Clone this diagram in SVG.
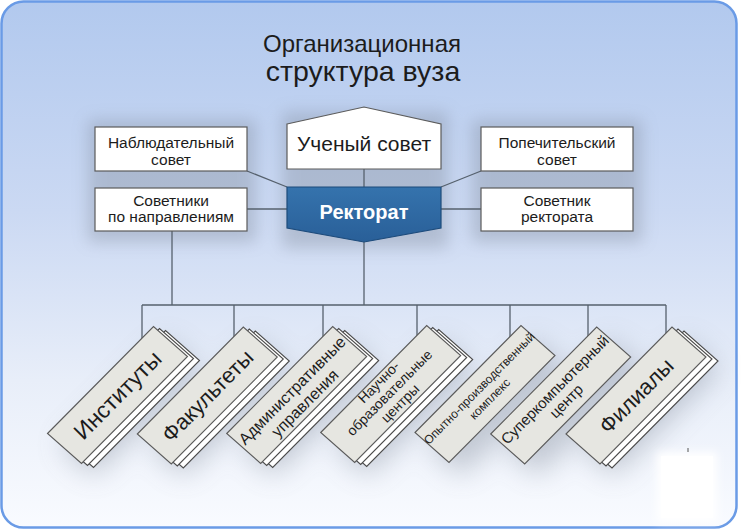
<svg xmlns="http://www.w3.org/2000/svg" width="741" height="531" viewBox="0 0 741 531">
<defs>
  <linearGradient id="bg" x1="0" y1="0" x2="0" y2="1">
    <stop offset="0" stop-color="#b2c9ee"/>
    <stop offset="0.4" stop-color="#cbd9f3"/>
    <stop offset="0.72" stop-color="#e8eef9"/>
    <stop offset="1" stop-color="#f9fbff"/>
  </linearGradient>
  <linearGradient id="rek" x1="0" y1="0" x2="0" y2="1">
    <stop offset="0" stop-color="#3573ad"/>
    <stop offset="1" stop-color="#295f98"/>
  </linearGradient>
  <filter id="soft" x="-30%" y="-30%" width="160%" height="160%">
    <feGaussianBlur stdDeviation="8"/>
  </filter>
  <filter id="soft2" x="-30%" y="-30%" width="160%" height="160%">
    <feGaussianBlur stdDeviation="14"/>
  </filter>
  <filter id="soft3" x="-30%" y="-30%" width="160%" height="160%">
    <feGaussianBlur stdDeviation="4"/>
  </filter>
  <polygon id="card" points="0,0 106,-107 140,-77 34,30"/>
</defs>
<style>
  .box{fill:#ffffff;stroke:#5b5b5b;stroke-width:1.2}
  .lbl{font-family:"Liberation Sans",Arial,sans-serif;fill:#1c1c1c;text-anchor:middle}
  .con path{stroke:#56616d;stroke-width:1.3;fill:none}
  .front{fill:#e6e6e1;stroke:#5a5a5a;stroke-width:1.1}
  .back{fill:#ffffff;stroke:#4a4a4a;stroke-width:1.1}
  .haze{fill:#7b8594}
</style>

<!-- background frame -->
<rect x="1.5" y="1.5" width="735" height="526" rx="22" fill="url(#bg)" stroke="#6a9be6" stroke-width="2.5"/>

<!-- soft shadows -->
<g class="haze" opacity="0.35" filter="url(#soft)">
  <rect x="88" y="120" width="168" height="122"/>
  <rect x="472" y="120" width="170" height="122"/>
  <rect x="282" y="112" width="166" height="136"/>
</g>
<g class="haze" opacity="0.4" filter="url(#soft2)">
  <use href="#card" transform="translate(60,446)"/>
  <use href="#card" transform="translate(150,446)"/>
  <use href="#card" transform="translate(240,446)"/>
  <use href="#card" transform="translate(334,446)"/>
  <use href="#card" transform="translate(428,446)"/>
  <use href="#card" transform="translate(504,446)"/>
  <use href="#card" transform="translate(580,446)"/>
</g>

<!-- title -->
<g id="title">
  <text class="lbl" x="362" y="52" font-size="24">Организационная</text>
  <text class="lbl" x="363" y="81" font-size="28.5">структура вуза</text>
</g>

<!-- connectors -->
<g id="connectors" class="con">
  <path d="M247,171 L287,187"/>
  <path d="M481,171 L441,187"/>
  <path d="M247,209 H287"/>
  <path d="M441,209 H481"/>
  <path d="M364,169 V187"/>
  <path d="M172,231 V305"/>
  <path d="M364,242 V305"/>
  <path d="M142,305 H666"/>
  <path d="M142,305 V345"/>
  <path d="M234,305 V345"/>
  <path d="M323,305 V345"/>
  <path d="M417,305 V345"/>
  <path d="M510,305 V345"/>
  <path d="M588,305 V345"/>
  <path d="M666,305 V345"/>
</g>

<!-- top nodes -->
<g id="nablyud">
  <rect class="box" x="95" y="127" width="152" height="44"/>
  <text class="lbl" x="171" y="148" font-size="15.5">Наблюдательный</text>
  <text class="lbl" x="171" y="164.5" font-size="15.5">совет</text>
</g>
<g id="sovetniki">
  <rect class="box" x="95" y="188" width="152" height="43"/>
  <text class="lbl" x="171" y="206" font-size="15.5">Советники</text>
  <text class="lbl" x="171" y="222" font-size="15.5">по направлениям</text>
</g>
<g id="popechit">
  <rect class="box" x="481" y="127" width="152" height="44"/>
  <text class="lbl" x="557" y="148" font-size="15.5">Попечительский</text>
  <text class="lbl" x="557" y="164.5" font-size="15.5">совет</text>
</g>
<g id="sovetnik-rektorata">
  <rect class="box" x="481" y="188" width="152" height="43"/>
  <text class="lbl" x="557" y="206" font-size="15.5">Советник</text>
  <text class="lbl" x="557" y="222" font-size="15.5">ректората</text>
</g>
<g id="uchenyi">
  <polygon class="box" points="287,124 364,107 441,124 441,169 287,169"/>
  <text class="lbl" x="364" y="151" font-size="21">Ученый совет</text>
</g>
<g id="rektorat">
  <polygon points="287,187 441,187 441,228 364,242 287,228" fill="url(#rek)" stroke="#1d4b7b" stroke-width="1.2"/>
  <text class="lbl" x="364" y="219" font-size="20" font-weight="bold" style="fill:#ffffff">Ректорат</text>
</g>

<!-- cards -->
<g id="instituty" transform="translate(47.5,433.5)">
  <use href="#card" class="back" x="12" y="4"/>
  <use href="#card" class="back" x="6" y="2"/>
  <use href="#card" class="front"/>
  <g transform="translate(70,-38.5) rotate(-45.3)">
    <text class="lbl" x="0" y="8" font-size="23">Институты</text>
  </g>
</g>
<g id="fakultety" transform="translate(137.3,434)">
  <use href="#card" class="back" x="12" y="4"/>
  <use href="#card" class="back" x="6" y="2"/>
  <use href="#card" class="front"/>
  <g transform="translate(70,-38.5) rotate(-45.3)">
    <text class="lbl" x="0" y="8" font-size="22">Факультеты</text>
  </g>
</g>
<g id="admin" transform="translate(226.7,433.5)">
  <use href="#card" class="back" x="12" y="4"/>
  <use href="#card" class="back" x="6" y="2"/>
  <use href="#card" class="front"/>
  <g transform="translate(70,-38.5) rotate(-45.3)">
    <text class="lbl" x="0" y="-1" font-size="16">Административные</text>
    <text class="lbl" x="0" y="17" font-size="16">управления</text>
  </g>
</g>
<g id="nauchno" transform="translate(320.7,432.5)">
  <use href="#card" class="back" x="12" y="4"/>
  <use href="#card" class="back" x="6" y="2"/>
  <use href="#card" class="front"/>
  <g transform="translate(70,-38.5) rotate(-45.3)">
    <text class="lbl" x="0" y="-12" font-size="14">Научно-</text>
    <text class="lbl" x="0" y="3" font-size="14">образовательные</text>
    <text class="lbl" x="0" y="18" font-size="14">центры</text>
  </g>
</g>
<g id="opytno" transform="translate(415,432.5)">
  <use href="#card" class="front"/>
  <g transform="translate(70,-38.5) rotate(-45.3)">
    <text class="lbl" x="0" y="-4" font-size="12">Опытно-производственный</text>
    <text class="lbl" x="0" y="11" font-size="12">комплекс</text>
  </g>
</g>
<g id="superkomp" transform="translate(490.7,434)">
  <use href="#card" class="front"/>
  <g transform="translate(70,-38.5) rotate(-45.3)">
    <text class="lbl" x="0" y="-3" font-size="15">Суперкомпьютерный</text>
    <text class="lbl" x="0" y="13" font-size="15">центр</text>
  </g>
</g>
<g id="filialy" transform="translate(566,434)">
  <use href="#card" class="back" x="12" y="4"/>
  <use href="#card" class="back" x="6" y="2"/>
  <use href="#card" class="front"/>
  <g transform="translate(70,-38.5) rotate(-45.3)">
    <text class="lbl" x="0" y="8" font-size="22">Филиалы</text>
  </g>
</g>

<!-- white patch bottom right -->
<rect x="657" y="452" width="60" height="70" fill="#ffffff" filter="url(#soft3)"/>
<rect x="661" y="456" width="52" height="62" fill="#ffffff"/>
<path d="M688,448 V452" stroke="#555" stroke-width="1"/>
</svg>
